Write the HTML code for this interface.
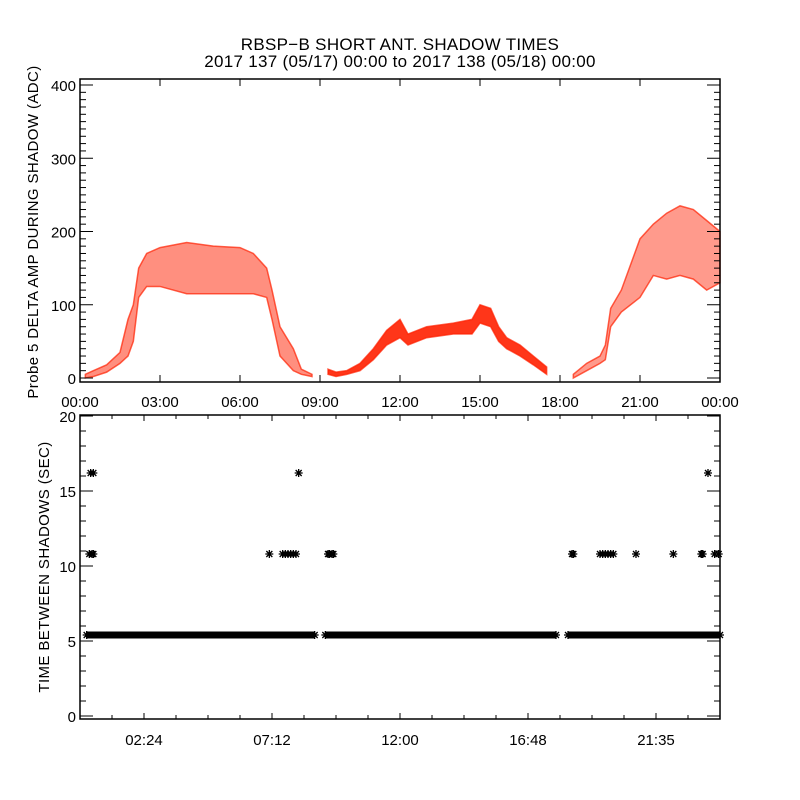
<!DOCTYPE html>
<html><head><meta charset="utf-8"><style>
html,body{margin:0;padding:0;background:#fff;}
svg{display:block;font-family:"Liberation Sans",sans-serif;}
</style></head><body>
<svg id="chart" width="800" height="800" viewBox="0 0 800 800" xmlns="http://www.w3.org/2000/svg">
<rect width="800" height="800" fill="#fff"/>
<text x="400" y="50" text-anchor="middle" font-size="17" letter-spacing="0.3">RBSP−B SHORT ANT. SHADOW TIMES</text>
<text x="400" y="67" text-anchor="middle" font-size="17" letter-spacing="0.3">2017 137 (05/17) 00:00 to 2017 138 (05/18) 00:00</text>
<g id="topPanel"></g>
<g id="botPanel"></g>
<text transform="translate(38,232) rotate(-90)" text-anchor="middle" font-size="15" letter-spacing="0.4">Probe 5 DELTA AMP DURING SHADOW (ADC)</text>
<text transform="translate(49,567) rotate(-90)" text-anchor="middle" font-size="15" letter-spacing="0.4">TIME BETWEEN SHADOWS (SEC)</text>
</svg>
<script>
// Top panel: envelope of scatter (hour, low, high, density) per segment
const ampSegHours = [
 [0.2,0.5,1.0,1.5,1.8,2.0,2.2,2.5,3.0,4.0,5.0,6.0,6.5,7.0,7.2,7.5,8.0,8.3,8.7],
 [9.3,9.6,10,10.5,11,11.5,12.0,12.3,13,14,14.7,15.0,15.4,15.7,16,16.5,17,17.5],
 [18.5,19,19.5,19.7,19.9,20.3,21,21.5,22,22.5,23,23.5,24]
];
const ampSegLow = [
 [0,2,8,20,30,50,110,125,125,115,115,115,115,110,80,30,10,5,2],
 [5,2,5,10,25,45,55,45,55,60,60,75,70,50,40,30,18,5],
 [0,10,20,25,70,90,110,140,135,140,135,120,130]
];
const ampSegHigh = [
 [5,10,18,35,80,100,150,170,178,185,180,178,170,150,120,70,40,12,5],
 [12,8,10,20,40,65,80,60,70,75,80,100,95,70,55,45,30,15],
 [5,20,30,45,95,120,190,210,225,235,230,215,200]
];
const ampSegDensity = [0.5, 0.9, 0.45];
const ampTicks = [0,100,200,300,400];
const hourTicksTop = [0,3,6,9,12,15,18,21,24];
const hourLabelsTop = ["00:00","03:00","06:00","09:00","12:00","15:00","18:00","21:00","00:00"];

// Bottom panel: intervals between shadows
const baseSegments = [[0.25,8.8],[9.2,17.85],[18.3,24]];
const baseValue = 5.4;
const midHours = [0.35,0.45,0.5,7.1,7.6,7.7,7.8,7.9,8.0,8.1,9.3,9.35,9.45,9.5,18.45,18.5,19.5,19.6,19.7,19.8,19.9,20.0,20.85,22.25,23.3,23.35,23.8,23.95];
const midValue = 10.8;
const highHours = [0.4,0.5,8.2,23.55];
const highValue = 16.2;
const secTicks = [0,5,10,15,20];
const hourTicksBot = [2.4,7.2,12,16.8,21.6];
const hourLabelsBot = ["02:24","07:12","12:00","16:48","21:35"];

const NS="http://www.w3.org/2000/svg";
function mk(tag,attrs,parent){const e=document.createElementNS(NS,tag);for(const k in attrs)e.setAttribute(k,attrs[k]);parent.appendChild(e);return e;}
const X0=80,X1=720;
const xs=h=>X0+h*(X1-X0)/24;
const T={top:79,bot:382,y0:378,y400:85};
const ysTop=v=>T.y0+(T.y400-T.y0)*v/400;
const B={top:415,bot:719,y0:716,y20:416};
const ysBot=v=>B.y0+(B.y20-B.y0)*v/20;

const topG=document.getElementById('topPanel'), botG=document.getElementById('botPanel');

// top data
for(let s=0;s<ampSegHours.length;s++){
  let pts=[];
  for(let i=0;i<ampSegHours[s].length;i++)pts.push(xs(ampSegHours[s][i])+','+ysTop(ampSegHigh[s][i]));
  for(let i=ampSegHours[s].length-1;i>=0;i--)pts.push(xs(ampSegHours[s][i])+','+ysTop(ampSegLow[s][i]));
  const p=mk('polygon',{points:pts.join(' '),fill:'#ff2000','fill-opacity':ampSegDensity[s],stroke:'#ff2000','stroke-width':1.5,'stroke-opacity':0.7},topG);
  
  
}
// top frame
const f1=mk('rect',{x:X0,y:T.top,width:X1-X0,height:T.bot-T.top,fill:'none',stroke:'#000','stroke-width':1.5},topG);


for(let v=0;v<=400;v+=10){
  const L=(v%100===0)?13:6;const y=ysTop(v);
  mk('line',{x1:X0,x2:X0+L,y1:y,y2:y,stroke:'#000'},topG);
  mk('line',{x1:X1,x2:X1-L,y1:y,y2:y,stroke:'#000'},topG);
}
ampTicks.forEach(v=>{const t=mk('text',{x:X0-4,y:ysTop(v)+6,'text-anchor':'end','font-size':15},topG);t.textContent=v;
  
  });
hourTicksTop.forEach((h,i)=>{const x=xs(h);
  mk('line',{x1:x,x2:x,y1:T.bot,y2:T.bot-7,stroke:'#000'},topG);
  mk('line',{x1:x,x2:x,y1:T.top,y2:T.top+7,stroke:'#000'},topG);
  const t=mk('text',{x:x,y:407,'text-anchor':'middle','font-size':15},topG);t.textContent=hourLabelsTop[i];
  
  });

// bottom frame
const f2=mk('rect',{x:X0,y:B.top,width:X1-X0,height:B.bot-B.top,fill:'none',stroke:'#000','stroke-width':1.5},botG);


for(let v=0;v<=20;v++){
  const L=(v%5===0)?13:6;const y=ysBot(v);
  mk('line',{x1:X0,x2:X0+L,y1:y,y2:y,stroke:'#000'},botG);
  mk('line',{x1:X1,x2:X1-L,y1:y,y2:y,stroke:'#000'},botG);
}
secTicks.forEach(v=>{const t=mk('text',{x:X0-4,y:ysBot(v)+6,'text-anchor':'end','font-size':15},botG);t.textContent=v;
  
  });
for(let k=0;k<=20;k++){const h=k*1.2;const x=xs(h);const L=(k%4===2)?6:4;
  mk('line',{x1:x,x2:x,y1:B.bot,y2:B.bot-L,stroke:'#000'},botG);
  mk('line',{x1:x,x2:x,y1:B.top,y2:B.top+L,stroke:'#000'},botG);}
hourTicksBot.forEach((h,i)=>{const t=mk('text',{x:xs(h),y:745,'text-anchor':'middle','font-size':15},botG);t.textContent=hourLabelsBot[i];
  
  });

function star(h,v){
  const cx=xs(h),cy=ysBot(v),r=4;
  const g=mk('path',{d:`M${cx-r},${cy}H${cx+r}M${cx},${cy-r}V${cy+r}M${cx-r*0.75},${cy-r*0.75}L${cx+r*0.75},${cy+r*0.75}M${cx-r*0.75},${cy+r*0.75}L${cx+r*0.75},${cy-r*0.75}`,stroke:'#000','stroke-width':1.3},botG);
  
  
}
baseSegments.forEach(([a,b])=>{
  const band=mk('rect',{x:xs(a),y:ysBot(baseValue)-3.5,width:xs(b)-xs(a),height:7,fill:'#000'},botG);
  
  
  star(a,baseValue);star(b,baseValue);
});
midHours.forEach(h=>star(h,midValue));
highHours.forEach(h=>star(h,highValue));
</script>
</body></html>
